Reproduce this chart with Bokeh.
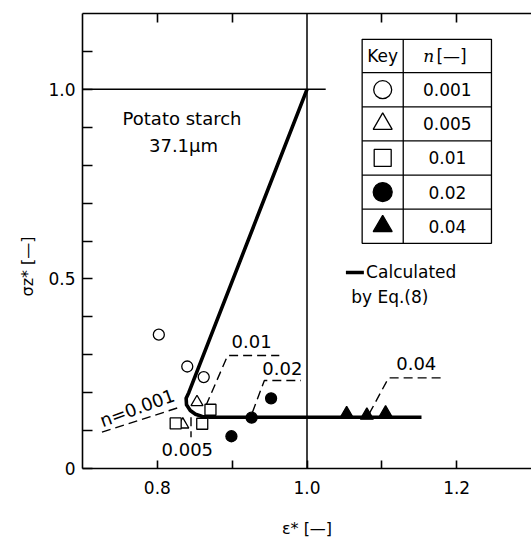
from bokeh.plotting import figure
from bokeh.models import LinearAxis, FixedTicker, Span, Range1d, Title
from bokeh.core.properties import value
from bokeh.embed import file_html
from bokeh.resources import INLINE

FONT = "DejaVu Sans"

# ---- measured data: reduced strain eps* and reduced stress sigma_z* ----
n_labels = ["0.001", "0.005", "0.01", "0.02", "0.04"]

eps_n0001 = [0.802, 0.840, 0.862]
sig_n0001 = [0.353, 0.269, 0.241]
eps_n0005 = [0.853, 0.834]
sig_n0005 = [0.175, 0.116]
eps_n001 = [0.8245, 0.860, 0.871]
sig_n001 = [0.119, 0.118, 0.155]
eps_n002 = [0.899, 0.926, 0.952]
sig_n002 = [0.085, 0.134, 0.185]
eps_n004 = [1.053, 1.080, 1.105]
sig_n004 = [0.144, 0.140, 0.146]

# curve calculated by Eq.(8)
calc_eps = [1.0, 0.842, 0.8385, 0.839, 0.844, 0.851, 0.860, 0.870, 1.153]
calc_sig = [1.0, 0.200, 0.185, 0.168, 0.153, 0.143, 0.137, 0.135, 0.135]

# dashed leader lines from the curve to the n labels
lead_n0001_x = [0.726, 0.829]
lead_n0001_y = [0.096, 0.161]
lead_n0005_x = [0.845, 0.845]
lead_n0005_y = [0.135, 0.0825]
lead_n001_x = [0.865, 0.894, 0.963]
lead_n001_y = [0.166, 0.298, 0.298]
lead_n002_x = [0.927, 0.943, 0.992]
lead_n002_y = [0.148, 0.232, 0.232]
lead_n004_x = [1.083, 1.109, 1.184]
lead_n004_y = [0.144, 0.239, 0.239]

p = figure(width=531, height=540, output_backend="svg", toolbar_location=None,
           x_range=Range1d(0.7, 1.3), y_range=Range1d(0.0, 1.2),
           min_border_left=82, min_border_right=0, min_border_top=13,
           min_border_bottom=72, background_fill_color="white",
           border_fill_color="white", outline_line_color=None)
p.grid.visible = False

# ---- axes ----
xa = p.xaxis[0]
xa.ticker = FixedTicker(ticks=[0.8, 1.0, 1.2], minor_ticks=[0.9, 1.1])
xa.major_label_overrides = {0.8: "0.8", 1.0: "1.0", 1.2: "1.2"}
ya = p.yaxis[0]
ya.ticker = FixedTicker(ticks=[0.0, 0.5, 1.0],
                        minor_ticks=[0.1, 0.2, 0.3, 0.4, 0.6, 0.7, 0.8, 0.9, 1.1])
ya.major_label_overrides = {0: "0", 0.5: "0.5", 1: "1.0"}

for ax, tick in ((xa, 8), (ya, 10)):
    ax.major_tick_in = tick
    ax.major_tick_out = 0
    ax.minor_tick_in = tick
    ax.minor_tick_out = 0
    ax.axis_line_width = 1.6
    ax.major_tick_line_width = 1.6
    ax.minor_tick_line_width = 1.6
    ax.major_label_text_font = FONT
    ax.major_label_text_font_size = "17px"
    ax.major_label_text_color = "black"
xa.major_label_standoff = 12
ya.major_label_standoff = 7

xa.axis_label = "ε* [—]"
xa.axis_label_text_font = FONT
xa.axis_label_text_font_style = "normal"
xa.axis_label_text_font_size = "16px"
xa.axis_label_text_color = "black"
xa.axis_label_standoff = 22

# y title sits outside the tick labels, a little below the frame centre
p.add_layout(Title(text="σz* [—]", align="left", offset=172, standoff=18,
                   text_font=FONT, text_font_style="normal", text_font_size="16px",
                   text_color="black"), "left")

top_ticks = [0.8, 0.9, 1.1, 1.2]
top = LinearAxis(ticker=FixedTicker(ticks=top_ticks, minor_ticks=[]),
                 major_tick_in=9, major_tick_out=0, major_tick_line_width=1.6,
                 axis_line_width=1.6, major_label_standoff=0,
                 major_label_overrides={t: "" for t in top_ticks})
p.add_layout(top, "above")

# reference lines eps* = 1 and sigma* = 1
p.add_layout(Span(location=1.0, dimension="height", line_color="black", line_width=1.5))
p.line([0.7, 1.025], [1.0, 1.0], line_color="black", line_width=1.5)

# ---- calculated curve ----
p.line(calc_eps, calc_sig, line_color="black", line_width=3.6, line_join="round")

# ---- leader lines and their labels ----
for lx, ly in ((lead_n0001_x, lead_n0001_y), (lead_n0005_x, lead_n0005_y),
               (lead_n001_x, lead_n001_y), (lead_n002_x, lead_n002_y),
               (lead_n004_x, lead_n004_y)):
    p.line(lx, ly, line_color="black", line_width=1.4, line_dash="9 5")

lab_txt = ["n=" + n_labels[0], n_labels[1], n_labels[2], n_labels[3], n_labels[4]]
lab_x = [0.773, 0.840, 0.926, 0.967, 1.146]
lab_y = [0.160, 0.050, 0.335, 0.265, 0.278]
lab_a = [0.35, 0.0, 0.0, 0.0, 0.0]
p.text(x=lab_x, y=lab_y, text=lab_txt, angle=lab_a, text_align="center",
       text_baseline="middle", text_font=value(FONT), text_font_size="18px",
       text_color="black")

# ---- measured points ----
series = [
    (eps_n0001, sig_n0001, "circle", "white", 11),
    (eps_n0005, sig_n0005, "triangle", "white", 12),
    (eps_n001, sig_n001, "square", "white", 11),
    (eps_n002, sig_n002, "circle", "black", 11),
    (eps_n004, sig_n004, "triangle", "black", 13),
]
for ex, sy, mk, fill, sz in series:
    p.scatter(ex, sy, marker=mk, size=sz, fill_color=fill, line_color="black",
              line_width=1.3)

# ---- annotations ----
p.text(x=[0.833, 0.835], y=[0.922, 0.852], text=["Potato starch", "37.1μm"],
       text_align="center", text_baseline="middle", text_font=value(FONT),
       text_font_size="18px", text_color="black")

p.line([1.052, 1.076], [0.517, 0.517], line_color="black", line_width=3.6)
p.text(x=[1.079, 1.059], y=[0.517, 0.452], text=["Calculated", "by Eq.(8)"],
       text_align="left", text_baseline="middle", text_font=value(FONT),
       text_font_size="17px", text_color="black")

# ---- key table ----
TX0, TXM, TX1 = 1.0737, 1.1286, 1.2465
TTOP, THEAD, ROWH = 1.132, 1.044, 0.090
nrows = len(n_labels)
tbot = THEAD - nrows * ROWH
p.quad(left=[TX0], right=[TX1], top=[TTOP], bottom=[tbot], fill_color="white",
       line_color="black", line_width=1.3)
p.segment(x0=[TXM], y0=[TTOP], x1=[TXM], y1=[tbot], line_color="black", line_width=1.3)
row_lines = [THEAD - i * ROWH for i in range(nrows)]
p.segment(x0=[TX0] * nrows, y0=row_lines, x1=[TX1] * nrows, y1=row_lines,
          line_color="black", line_width=1.3)

hy = (TTOP + THEAD) / 2
p.text(x=[(TX0 + TXM) / 2], y=[hy], text=["Key"], text_align="center",
       text_baseline="middle", text_font=value(FONT), text_font_size="17px",
       text_color="black")
p.text(x=[1.170], y=[hy], text=["n"], text_align="right", text_baseline="middle",
       text_font=value("DejaVu Serif"), text_font_style="italic",
       text_font_size="17px", text_color="black")
p.text(x=[1.173], y=[hy], text=["[—]"], text_align="left", text_baseline="middle",
       text_font=value(FONT), text_font_size="17px", text_color="black")

key_size = [18, 19, 17, 19, 19]
for i, (ex, sy, mk, fill, sz) in enumerate(series):
    cy = THEAD - (i + 0.5) * ROWH
    p.scatter([(TX0 + TXM) / 2], [cy], marker=mk, size=key_size[i], fill_color=fill,
              line_color="black", line_width=1.3)
    p.text(x=[(TXM + TX1) / 2], y=[cy], text=[n_labels[i]], text_align="center",
           text_baseline="middle", text_font=value(FONT), text_font_size="17px",
           text_color="black")

open("out.html", "w").write(file_html(p, INLINE))
